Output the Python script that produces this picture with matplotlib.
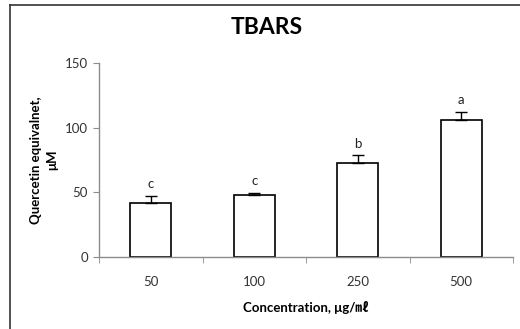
import matplotlib
matplotlib.use("Agg")
import matplotlib.pyplot as plt
from matplotlib.lines import Line2D
import numpy as np

categories = ["50", "100", "250", "500"]
values = [42, 48, 72.5, 106]
errors = [5, 1.5, 6, 6]
letters = ["c", "c", "b", "a"]
yticks = [0, 50, 100, 150]

plt.rcParams['font.family'] = ['Lato', 'Noto Sans CJK JP', 'DejaVu Sans']

W, H = 520, 329
fig = plt.figure(figsize=(W/100, H/100), dpi=100)
ax = fig.add_axes([99/W, 1-257/H, (513-99)/W, (257-63)/H])

x = np.arange(len(categories))
ax.bar(x, values, width=0.4, color='white', edgecolor='black', linewidth=1.2, zorder=2)
ax.errorbar(x, values, yerr=[np.zeros(len(errors)), errors], fmt='none',
            ecolor='black', elinewidth=1.0, capsize=4, capthick=1.0, zorder=3)
for xi, v, e, l in zip(x, values, errors, letters):
    ax.text(xi, v + e + 4.5, l, ha='center', va='bottom', fontsize=9.5, color='#222222')

ax.set_xlim(-0.5, len(categories) - 0.5)
ax.set_ylim(0, 150)
ax.set_yticks(yticks)
ax.set_yticklabels([str(t) for t in yticks])
ax.set_xticks(x)
ax.set_xticklabels(categories)
ax.set_xticks(np.arange(-0.5, len(categories), 1.0), minor=True)

gray = '#8c8c8c'
for s in ['top', 'right']:
    ax.spines[s].set_visible(False)
for s in ['left', 'bottom']:
    ax.spines[s].set_color(gray)
    ax.spines[s].set_linewidth(1.0)
ax.tick_params(axis='y', direction='out', length=4, color=gray, labelsize=9.5,
               labelcolor='#333333', pad=4)
ax.tick_params(axis='x', which='major', length=0, labelsize=9.5, labelcolor='#333333', pad=14)
ax.tick_params(axis='x', which='minor', direction='out', length=4, color=gray)

ax.set_ylabel("Quercetin equivalnet,\nμM", fontsize=9.5, fontweight='bold', labelpad=5,
              linespacing=1.35)
ax.set_xlabel("Concentration, μg/㎖", fontsize=9.5, fontweight='bold', labelpad=9)

fig.text(267/W, 1-28/H, "TBARS", ha='center', va='center', fontsize=16.5, fontweight='bold')

# outer chart border (left and top edges visible)
fig.add_artist(Line2D([10/W, 10/W], [0, 1-5/H], transform=fig.transFigure, color='#333333', lw=1.2))
fig.add_artist(Line2D([10/W, 1], [1-5/H, 1-5/H], transform=fig.transFigure, color='#333333', lw=1.2))

fig.savefig("out.png", dpi=100)
